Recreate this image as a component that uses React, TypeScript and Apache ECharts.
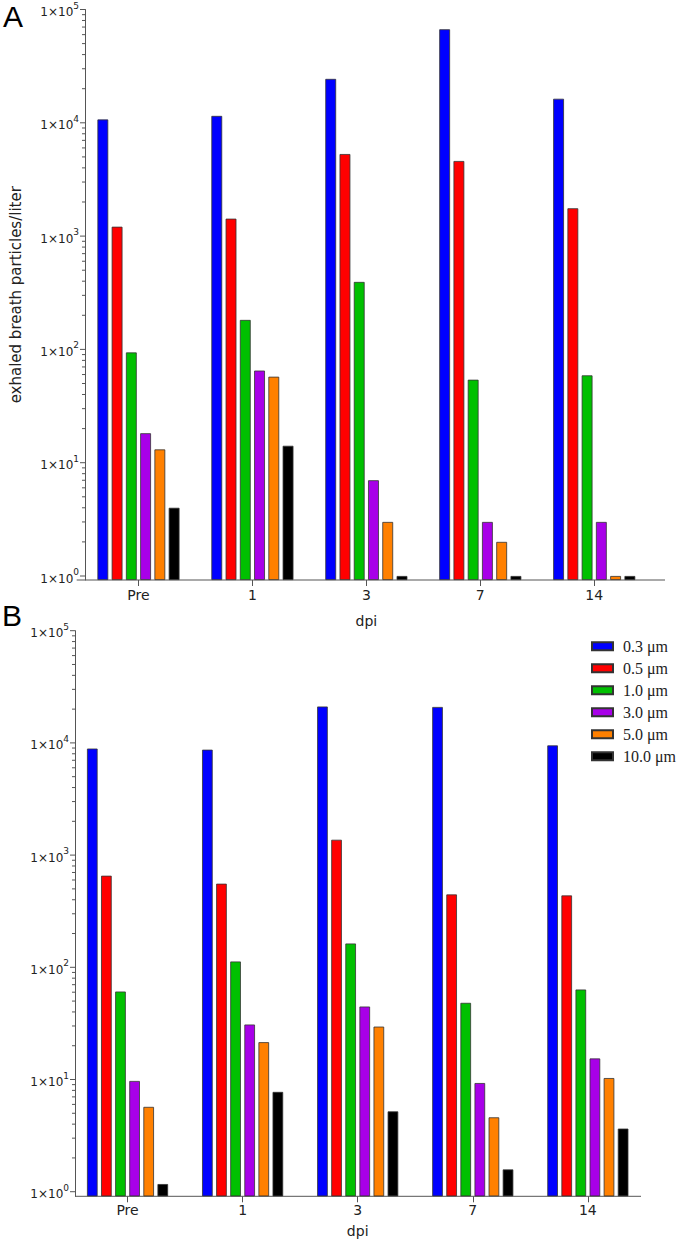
import React, { useEffect, useRef } from 'react';
import * as echarts from 'echarts';

const categories = ['Pre', '1', '3', '7', '14'];
const sizeNames = ['0.3 μm', '0.5 μm', '1.0 μm', '3.0 μm', '5.0 μm', '10.0 μm'];
const sizeColors = ['#0000ff', '#ff0000', '#00c000', '#a800e8', '#ff8000', '#000000'];

// Panel A values (particles / liter)
const a03 = [10700, 11500, 24400, 66900, 16300];
const a05 = [1210, 1425, 5300, 4600, 1760];
const a10 = [94, 182, 394, 54, 59];
const a30 = [18.2, 65, 7.0, 3.0, 3.0];
const a50 = [13.1, 57.4, 3.0, 2.0, 1.0];
const a100 = [4.0, 14.1, 1.0, 1.0, 1.0];

// Panel B values (particles / liter)
const b03 = [8900, 8700, 21100, 20900, 9500];
const b05 = [655, 556, 1370, 446, 437];
const b10 = [60.8, 112.7, 163, 48.2, 63.4];
const b30 = [9.7, 30.9, 44.7, 9.3, 15.4];
const b50 = [5.7, 21.5, 29.6, 4.6, 10.3];
const b100 = [1.17, 7.75, 5.2, 1.58, 3.65];

const majorTicks = [1, 10, 100, 1000, 10000, 100000];

const AXIS_COLOR = '#555555';

function buildTickData() {
  const out: number[][] = [];
  majorTicks.forEach((m, i) => {
    out.push([0, m, 1]);
    if (i < majorTicks.length - 1) {
      for (let k = 2; k <= 9; k++) out.push([0, m * k, 0]);
    }
  });
  return out;
}

export default function App() {
  const ref = useRef<HTMLDivElement>(null);

  useEffect(() => {
    if (!ref.current) return;
    const chart = echarts.init(ref.current, undefined, { renderer: 'svg' });

    const panels = [
      {
        grid: { left: 73.2, top: 9.5, width: 578, height: 570.5 },
        min: 0.922,
        shift: 3.5,
        values: [a03, a05, a10, a30, a50, a100],
        labelMargin: 8,
        nameGap: 33.5,
        yName: 'exhaled breath particles/liter',
        barWidth: 10.8,
        barGap: '32%',
      },
      {
        grid: { left: 70, top: 630.7, width: 575.4, height: 565.6 },
        min: 0.91,
        shift: 5,
        values: [b03, b05, b10, b30, b50, b100],
        labelMargin: 7,
        nameGap: 28,
        yName: '',
        barWidth: 10.6,
        barGap: '33%',
      },
    ];

    const tickData = buildTickData();

    const grids: any[] = [];
    const xAxes: any[] = [];
    const yAxes: any[] = [];
    const series: any[] = [];

    panels.forEach((p, pi) => {
      grids.push({ ...p.grid, containLabel: false });
      xAxes.push({
        type: 'category',
        gridIndex: pi,
        data: categories,
        name: 'dpi',
        nameLocation: 'middle',
        nameGap: p.nameGap,
        nameTextStyle: { fontFamily: 'DejaVu Sans', fontSize: 14, color: '#222' },
        axisLine: { show: false },
        axisTick: { show: true, alignWithLabel: true, length: 6, lineStyle: { color: AXIS_COLOR } },
        axisLabel: { fontFamily: 'DejaVu Sans', fontSize: 14, color: '#222', margin: p.labelMargin },
        splitLine: { show: false },
      });
      yAxes.push({
        type: 'log',
        gridIndex: pi,
        min: p.min,
        max: 100000,
        startValue: p.min,
        offset: -p.shift,
        name: p.yName,
        nameLocation: 'middle',
        nameRotate: 90,
        nameGap: 62,
        nameTextStyle: { fontFamily: 'DejaVu Sans', fontSize: 15, color: '#222' },
        axisLine: { show: true, lineStyle: { color: AXIS_COLOR, width: 1 } },
        axisTick: { show: false },
        splitLine: { show: false },
        minorTick: { show: false },
        axisLabel: {
          showMinLabel: false,
          margin: 6,
          fontFamily: 'DejaVu Sans',
          fontSize: 12,
          color: '#222',
          formatter: (v: number) => {
            const e = Math.log10(v);
            const r = Math.round(e);
            if (Math.abs(e - r) > 1e-6) return '';
            return '{b|1×10}{s|' + r + '}';
          },
          rich: {
            b: { fontFamily: 'DejaVu Sans', fontSize: 12, color: '#222', lineHeight: 17, verticalAlign: 'bottom' },
            s: { fontFamily: 'DejaVu Sans', fontSize: 9, color: '#222', lineHeight: 17, verticalAlign: 'top' },
          },
        },
      });

      p.values.forEach((vals, si) => {
        series.push({
          type: 'bar',
          name: sizeNames[si],
          xAxisIndex: pi,
          yAxisIndex: pi,
          data: vals,
          barWidth: p.barWidth,
          barGap: p.barGap,
          itemStyle: { color: sizeColors[si], borderColor: '#333333', borderWidth: 0.8 },
        });
      });

      const shift = p.shift;
      series.push({
        type: 'custom',
        name: 'ticks' + pi,
        xAxisIndex: pi,
        yAxisIndex: pi,
        silent: true,
        clip: false,
        data: tickData,
        renderItem: (params: any, api: any) => {
          const y = api.coord([0, api.value(1)])[1];
          const x0 = params.coordSys.x + shift;
          const len = api.value(2) ? 5 : 3;
          return {
            type: 'line',
            shape: { x1: x0 - len, y1: y, x2: x0, y2: y },
            style: { stroke: AXIS_COLOR, lineWidth: 1 },
          };
        },
      });
    });

    chart.setOption({
      animation: false,
      backgroundColor: '#ffffff',
      grid: grids,
      xAxis: xAxes,
      yAxis: yAxes,
      series,
      legend: {
        data: sizeNames,
        orient: 'vertical',
        left: 591,
        top: 638.3,
        padding: 0,
        itemWidth: 21,
        itemHeight: 8,
        itemGap: 6,
        icon: 'rect',
        selectedMode: false,
        textStyle: {
          fontFamily: 'Liberation Serif',
          fontSize: 16,
          color: '#222',
          lineHeight: 12,
          padding: [0, 0, 0, 5],
        },
      },
      graphic: [
        {
          type: 'line',
          shape: { x1: 76.7, y1: 580, x2: 665, y2: 580 },
          style: { stroke: AXIS_COLOR, lineWidth: 1 },
          silent: true,
        },
        {
          type: 'line',
          shape: { x1: 75, y1: 1196.3, x2: 641, y2: 1196.3 },
          style: { stroke: AXIS_COLOR, lineWidth: 1 },
          silent: true,
        },
        {
          type: 'text',
          left: 3,
          top: 1,
          style: { text: 'A', fontFamily: 'Liberation Sans', fontSize: 30, fill: '#000' },
        },
        {
          type: 'text',
          left: 2,
          top: 600,
          style: { text: 'B', fontFamily: 'Liberation Sans', fontSize: 30, fill: '#000' },
        },
      ],
    });

    return () => chart.dispose();
  }, []);

  return (
    <div
      ref={ref}
      style={{ position: 'absolute', left: 0, top: 0, width: 677, height: 1249, background: '#fff' }}
    />
  );
}
